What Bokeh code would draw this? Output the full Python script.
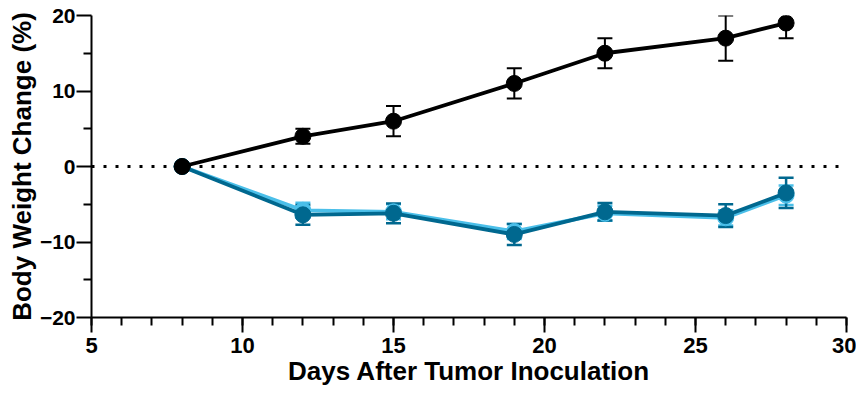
from bokeh.plotting import figure
from bokeh.models import ColumnDataSource, Whisker, TeeHead, Span, FixedTicker, Range1d
from bokeh.embed import file_html
from bokeh.resources import INLINE

days = [8, 12, 15, 19, 22, 26, 28]
black_mean = [0, 4, 6, 11, 15, 17, 19]
black_err = [0, 1.0, 2.0, 2.0, 2.0, 3.0, 2.0]
light_mean = [0, -5.8, -6.0, -8.6, -6.2, -6.8, -3.8]
light_err = [0, 1.0, 1.0, 1.0, 1.0, 1.0, 1.3]
dark_mean = [0, -6.4, -6.2, -9.0, -6.0, -6.5, -3.5]
dark_err = [0, 1.3, 1.3, 1.4, 1.15, 1.5, 2.0]

x_major = [5, 10, 15, 20, 25, 30]
x_minor = list(range(5, 31))
y_major = [-20, -10, 0, 10, 20]
y_minor = [-15, -5, 5, 15]

FONT = "Liberation Sans"

p = figure(width=856, height=388, output_backend="svg", toolbar_location=None,
           x_range=Range1d(5, 30), y_range=Range1d(-20, 20),
           min_border_left=91, min_border_right=10, min_border_top=15, min_border_bottom=60)
p.outline_line_color = None
p.xgrid.visible = False
p.ygrid.visible = False

zero = Span(location=0, dimension="width", line_color="black", line_width=3, line_dash="3 9")
p.add_layout(zero)

def series(mean, err, color, whisker_color, lw_whisker):
    lower = [m - e for m, e in zip(mean, err)]
    upper = [m + e for m, e in zip(mean, err)]
    src = ColumnDataSource(dict(x=days, y=mean, lower=lower, upper=upper))
    w = Whisker(source=src, base="x", lower="lower", upper="upper",
                line_color=whisker_color, line_width=lw_whisker,
                lower_head=TeeHead(size=15, line_color=whisker_color, line_width=lw_whisker),
                upper_head=TeeHead(size=15, line_color=whisker_color, line_width=lw_whisker))
    p.add_layout(w)
    p.line("x", "y", source=src, line_color=color, line_width=3.8)
    p.scatter("x", "y", source=src, size=16, fill_color=color, line_color=color)

series(light_mean, light_err, "#4BBFE9", "#4BBFE9", 2.5)
series(dark_mean, dark_err, "#00688F", "#00688F", 2.5)
series(black_mean, black_err, "black", "black", 2)

p.xaxis.ticker = FixedTicker(ticks=x_major, minor_ticks=x_minor)
p.yaxis.ticker = FixedTicker(ticks=y_major, minor_ticks=y_minor)
p.xaxis.axis_label = "Days After Tumor Inoculation"
p.yaxis.axis_label = "Body Weight Change (%)"

for ax in (p.xaxis, p.yaxis):
    ax.axis_line_width = 2
    ax.axis_line_color = "black"
    ax.major_tick_line_width = 2
    ax.minor_tick_line_width = 2
    ax.major_tick_line_color = "black"
    ax.minor_tick_line_color = "black"
    ax.major_tick_out = 15
    ax.major_tick_in = 0
    ax.minor_tick_out = 8
    ax.minor_tick_in = 0
    ax.major_label_text_font = FONT
    ax.major_label_text_font_style = "bold"
    ax.major_label_text_color = "black"
    ax.axis_label_text_font = FONT
    ax.axis_label_text_font_style = "bold"
    ax.axis_label_text_color = "black"

p.xaxis.major_label_text_font_size = "22px"
p.yaxis.major_label_text_font_size = "21px"
p.xaxis.axis_label_text_font_size = "26px"
p.yaxis.axis_label_text_font_size = "26px"
p.xaxis.major_label_standoff = 5
p.yaxis.major_label_standoff = 1
p.xaxis.axis_label_standoff = 0
p.yaxis.axis_label_standoff = 0

open("out.html", "w").write(file_html(p, INLINE))
